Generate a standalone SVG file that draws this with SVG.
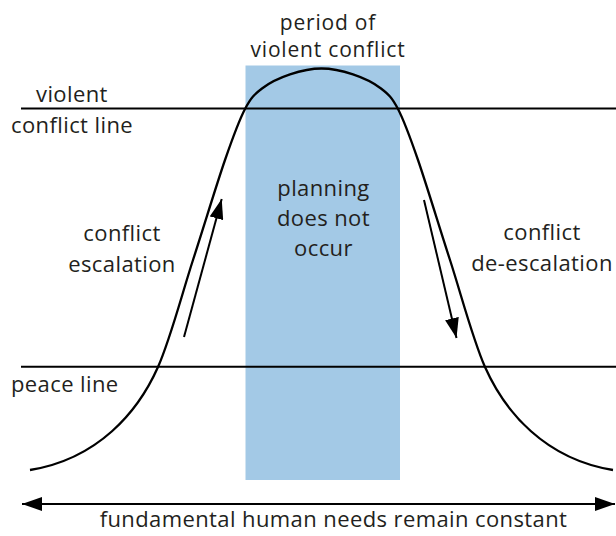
<svg xmlns="http://www.w3.org/2000/svg" width="616" height="536" viewBox="0 0 616 536">
<defs>
<style>
.t{font-family:"Open Sans","Liberation Sans",sans-serif;font-size:22px;letter-spacing:0.4px;fill:#231f20}
.s{font-size:21px;letter-spacing:0.8px}
.ln{stroke:#000;stroke-width:2;fill:none}
.cv{stroke:#000;stroke-width:2.3;fill:none}
</style>
<marker id="ah" viewBox="0 0 20 14" refX="20" refY="7" markerWidth="20" markerHeight="14" markerUnits="userSpaceOnUse" orient="auto-start-reverse">
<path d="M0,0 L20,7 L0,14 Z" fill="#000"/>
</marker>
</defs>
<rect width="616" height="536" fill="#fff"/>
<g id="period-rect">
<rect x="245.5" y="65.5" width="154.5" height="414.5" fill="#a3c9e6"/>
</g>
<g id="connectors">
<line class="ln" x1="21" y1="108.5" x2="616" y2="108.5"/>
<line class="ln" x1="21" y1="366.7" x2="616" y2="366.7"/>
<path class="cv" d="M30,470 C98,459 138,412 158,367 C170.5,338.7 181.8,294.5 193,260 C204.2,225.5 216.3,185.2 225,160 C233.7,134.8 238.8,120.9 245,109 C251.2,97.1 254.5,94.3 262,88.5 C269.5,82.7 280.1,77.7 290,74.4 C299.9,71.1 311,68.5 321.5,68.5 C332,68.5 343.1,71.1 353,74.4 C362.9,77.7 373.5,82.7 381,88.5 C388.5,94.3 391.8,97.1 398,109 C404.2,120.9 409.3,134.8 418,160 C426.7,185.2 438.8,225.5 450,260 C461.2,294.5 472.5,338.7 485,367 C505,412 545,459 613,470"/>
<line class="ln" x1="184" y1="337" x2="221.7" y2="199" marker-end="url(#ah)"/>
<line class="ln" x1="424" y1="200" x2="456.5" y2="338" marker-end="url(#ah)"/>
<line class="ln" x1="22" y1="504" x2="615" y2="504" marker-start="url(#ah)" marker-end="url(#ah)"/>
</g>
<g id="label-period">
<text class="t s" x="328" y="29.5" text-anchor="middle">period of</text>
<text class="t s" x="328" y="56.5" text-anchor="middle">violent conflict</text>
</g>
<g id="label-violent-line">
<text class="t" x="36" y="101.7">violent</text>
<text class="t" x="11" y="132.7">conflict line</text>
</g>
<g id="label-planning">
<text class="t" x="323.5" y="195.5" text-anchor="middle">planning</text>
<text class="t" x="323.5" y="226" text-anchor="middle">does not</text>
<text class="t" x="323.5" y="256" text-anchor="middle">occur</text>
</g>
<g id="label-escalation">
<text class="t" x="122" y="240.5" text-anchor="middle">conflict</text>
<text class="t" x="122" y="271.5" text-anchor="middle">escalation</text>
</g>
<g id="label-deescalation">
<text class="t" x="542" y="240" text-anchor="middle">conflict</text>
<text class="t" x="542" y="270.5" text-anchor="middle">de-escalation</text>
</g>
<g id="label-peace-line">
<text class="t" x="11" y="391.7">peace line</text>
</g>
<g id="label-needs">
<text class="t" x="333.5" y="527" text-anchor="middle">fundamental human needs remain constant</text>
</g>
</svg>
